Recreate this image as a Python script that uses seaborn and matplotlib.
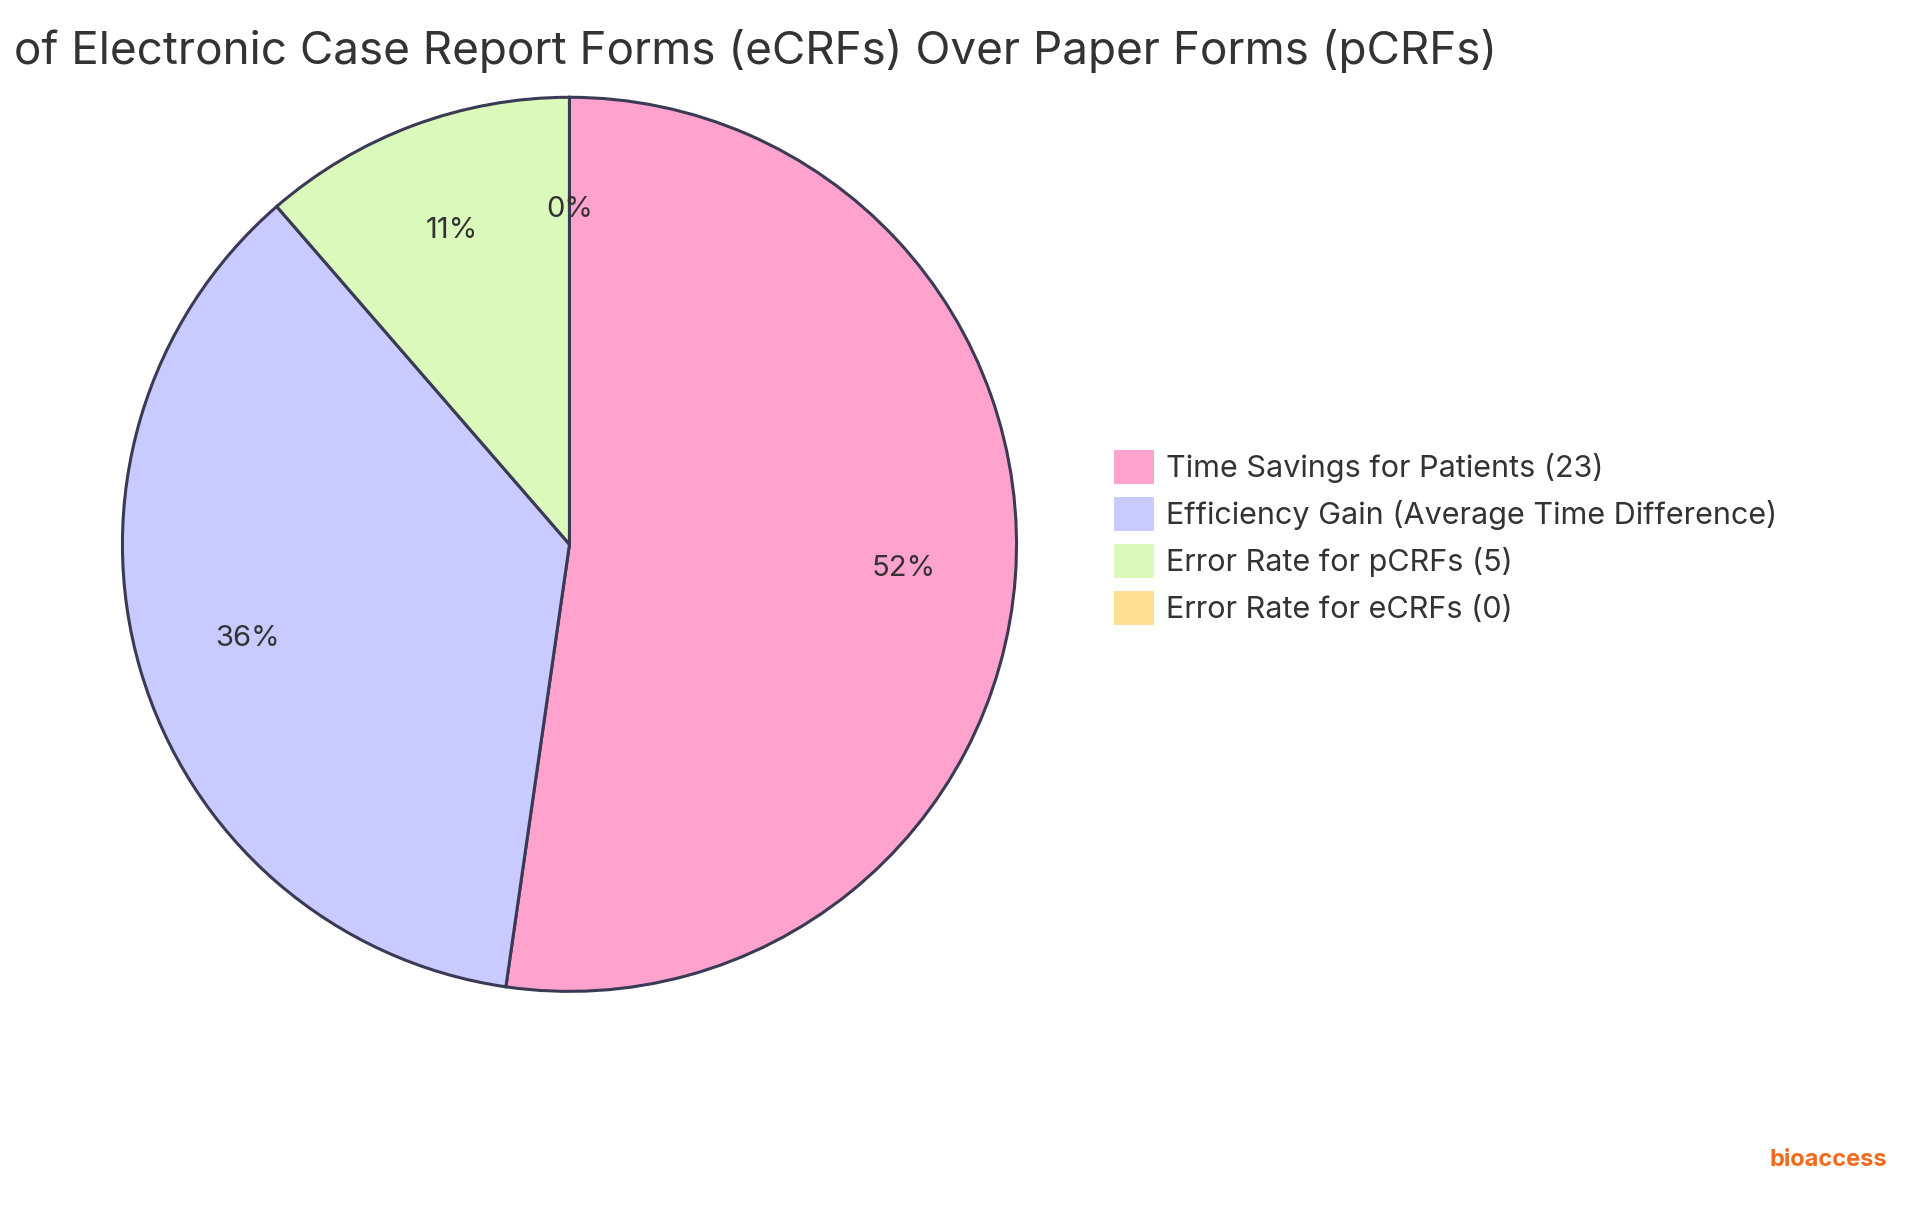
import matplotlib
matplotlib.use("Agg")
import matplotlib.pyplot as plt
import seaborn as sns
from matplotlib.patches import Patch

sns.set_theme(style="white")
plt.rcParams['font.family'] = ['Inter', 'DejaVu Sans']

labels = ["Time Savings for Patients (23)", "Efficiency Gain (Average Time Difference)",
          "Error Rate for pCRFs (5)", "Error Rate for eCRFs (0)"]
values = [23, 16, 5, 0]
colors = ["#FFA3CE", "#C9CAFF", "#DBF9BB", "#FFDF94"]
title = "Advantages of Electronic Case Report Forms (eCRFs) Over Paper Forms (pCRFs)"

fig = plt.figure(figsize=(19.2, 12.15), dpi=100)
ax = fig.add_axes([0.0626, 0.182, 0.468, 0.74])
ax.pie(values, colors=colors, startangle=90, counterclock=False,
       autopct=lambda p: f"{p:.0f}%", pctdistance=0.75,
       wedgeprops=dict(edgecolor="#3a3a55", linewidth=2.2),
       textprops=dict(fontsize=21, color="#333333"))
ax.set_xlim(-1.005, 1.005)
ax.set_ylim(-1.005, 1.005)
ax.set_aspect("equal")

fig.text(0.78, 0.958, title, ha="right", va="center", fontsize=33, color="#333333")
handles = [Patch(facecolor=c, edgecolor="none") for c in colors]
fig.legend(handles, labels, loc="upper left", bbox_to_anchor=(0.566, 0.652),
           frameon=False, fontsize=22, handlelength=1.3, handleheight=1.3,
           labelspacing=0.45, handletextpad=0.4, labelcolor="#333333")
fig.text(0.983, 0.045, "bioaccess", ha="right", va="center", fontsize=17,
         color="#F26B1D", fontweight="bold")
fig.savefig("out.png", dpi=100)
